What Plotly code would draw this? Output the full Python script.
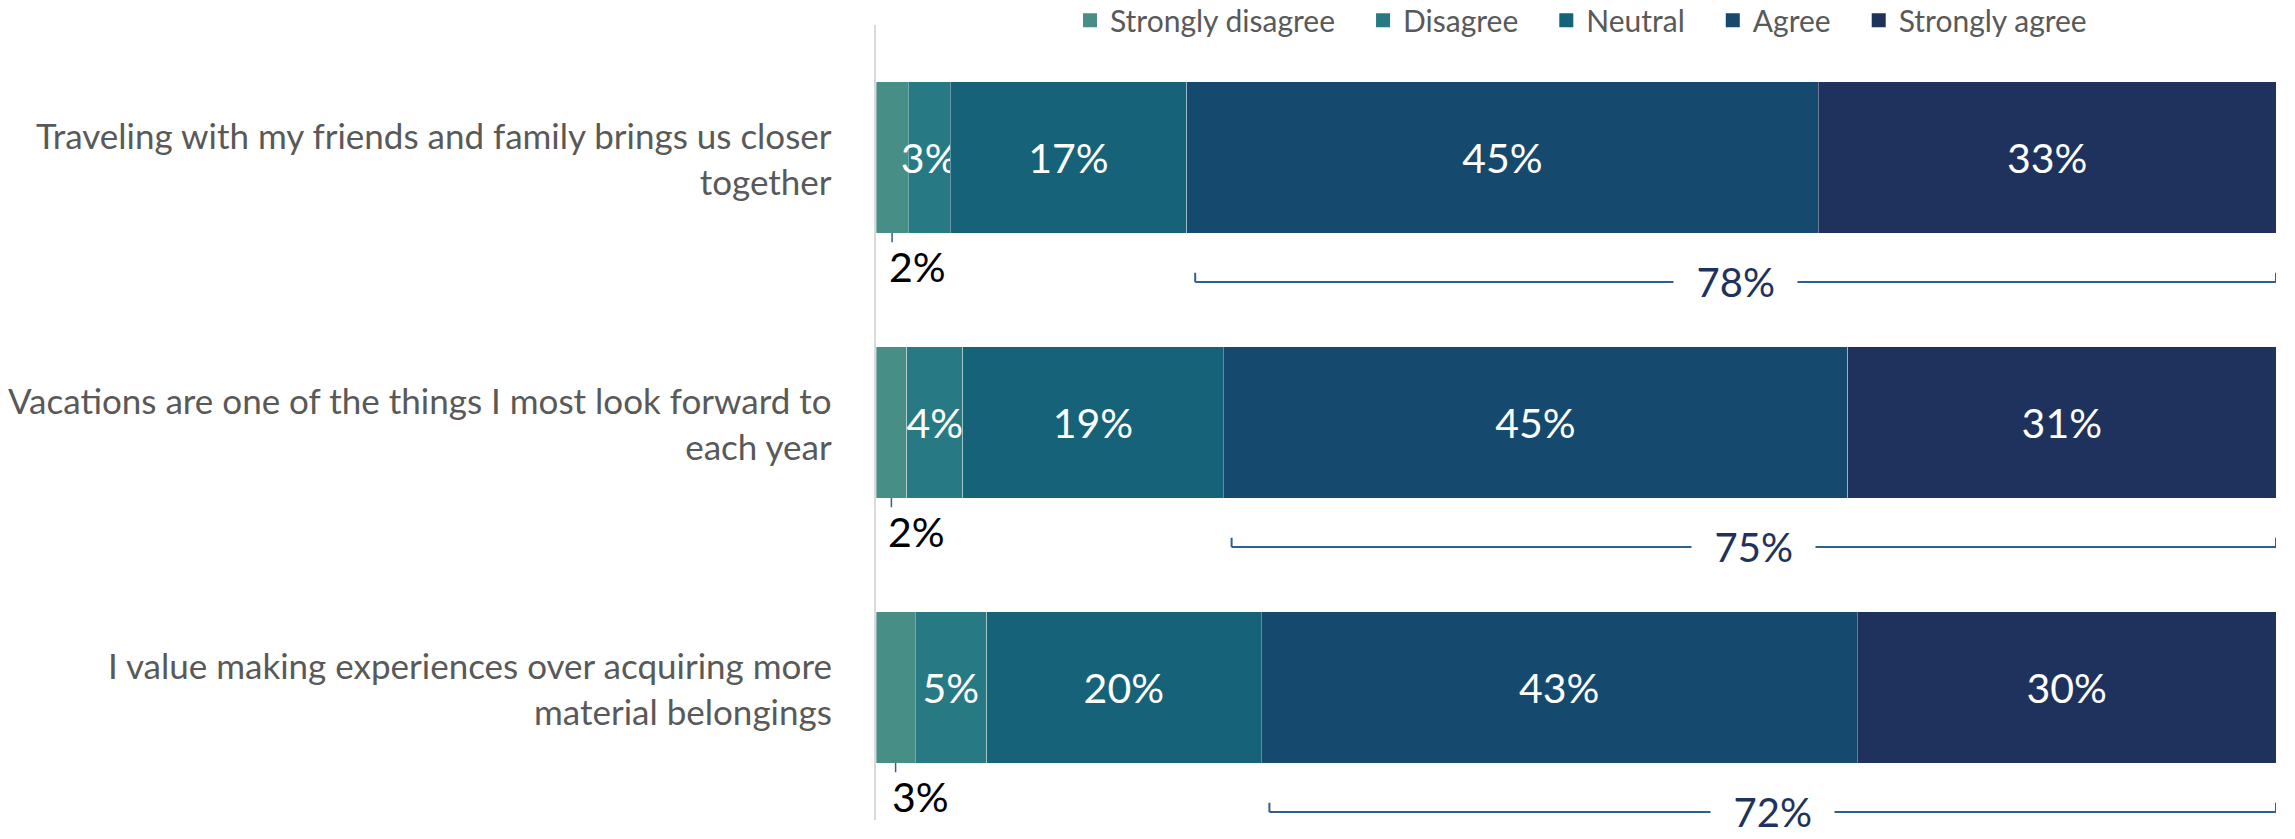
import plotly.graph_objects as go

categories = [
    "Traveling with my friends and family brings us closer<br>together",
    "Vacations are one of the things I most look forward to<br>each year",
    "I value making experiences over acquiring more<br>material belongings",
]
series_names = ["Strongly disagree", "Disagree", "Neutral", "Agree", "Strongly agree"]
strongly_disagree = [2.3, 2.2, 2.8]
disagree = [3.0, 4.0, 5.1]
neutral = [16.9, 18.6, 19.6]
agree = [45.1, 44.6, 42.6]
strongly_agree = [32.7, 30.6, 29.9]
top2_labels = [78, 75, 72]

colors = ["#478E87", "#277A83", "#156279", "#15496D", "#1E325D"]
FONT = "Lato"
rows = list(range(len(categories)))
series = [strongly_disagree, disagree, neutral, agree, strongly_agree]

fig = go.Figure()
for i, (name, vals) in enumerate(zip(series_names, series)):
    show_text = i > 0
    fig.add_trace(go.Bar(
        y=rows, x=vals, orientation="h", name=name, showlegend=False,
        marker=dict(color=colors[i], line=dict(color="rgba(255,255,255,0.35)", width=1)),
        width=0.57,
        text=[f"{round(v)}%" for v in vals] if show_text else None,
        textposition="inside" if show_text else "none",
        insidetextanchor="middle",
        textangle=0,
        constraintext="none",
        textfont=dict(family=FONT, size=41, color="white"),
        hoverinfo="skip",
    ))
# legend entries with larger square swatches
for i, name in enumerate(series_names):
    legend_name = name + ("\u00a0" * 3 if i < len(series_names) - 1 else "")
    fig.add_trace(go.Scatter(
        x=[None], y=[None], mode="markers", name=legend_name,
        marker=dict(symbol="square", size=14, color=colors[i]),
        hoverinfo="skip",
    ))

shapes = []
annotations = []
bar_half = 0.285
for r in rows:
    # small label below the strongly-disagree segment
    sd_mid = strongly_disagree[r] / 2
    shapes.append(dict(type="line", xref="x", yref="y", x0=sd_mid, x1=sd_mid,
                       y0=r + bar_half, y1=r + 0.32, line=dict(color="#2F5F8F", width=1.5)))
    annotations.append(dict(xref="x", yref="y", x=sd_mid - 0.4, y=r + 0.41,
                            text=f"{round(strongly_disagree[r])}%", showarrow=False,
                            xanchor="left", yanchor="middle",
                            font=dict(family=FONT, size=41, color="black")))
    # top-2 bracket
    start = strongly_disagree[r] + disagree[r] + neutral[r] + 0.6
    end = strongly_disagree[r] + disagree[r] + neutral[r] + agree[r] + strongly_agree[r]
    yb = r + 0.47
    shapes.append(dict(type="line", xref="x", yref="y", x0=start, x1=end, y0=yb, y1=yb,
                       line=dict(color="#2F5F8F", width=2)))
    for xx in (start, end):
        shapes.append(dict(type="line", xref="x", yref="y", x0=xx, x1=xx, y0=yb, y1=yb - 0.035,
                           line=dict(color="#2F5F8F", width=2)))
    annotations.append(dict(xref="x", yref="y", x=(start + end) / 2, y=yb,
                            text="&nbsp;&nbsp;" + f"{top2_labels[r]}%" + "&nbsp;&nbsp;",
                            showarrow=False,
                            xanchor="center", yanchor="middle", bgcolor="white", borderpad=2,
                            font=dict(family=FONT, size=40, color="#1E325D")))
    # category label
    annotations.append(dict(xref="paper", yref="y", x=-0.03, y=r, text=categories[r],
                            showarrow=False, xanchor="right", yanchor="middle", align="right",
                            font=dict(family=FONT, size=35, color="#595959")))

fig.update_layout(
    width=2279, height=823,
    margin=dict(l=868, r=11, t=17, b=11, autoexpand=False),
    barmode="stack",
    plot_bgcolor="white", paper_bgcolor="white",
    xaxis=dict(range=[0, 100], visible=False, fixedrange=True, automargin=False),
    yaxis=dict(range=[2.5, -0.5], showticklabels=False, showgrid=False, zeroline=False,
               showline=True, linecolor="#D9D9D9", linewidth=2, ticks="", automargin=False),
    legend=dict(orientation="h", xref="container", yref="container",
                x=0.466, xanchor="left", y=0.985, yanchor="middle",
                font=dict(family=FONT, size=30, color="#595959"), traceorder="normal",
                bgcolor="rgba(0,0,0,0)", itemwidth=30),
    shapes=shapes, annotations=annotations,
    font=dict(family=FONT),
    showlegend=True,
)
fig.write_html("out.html")
